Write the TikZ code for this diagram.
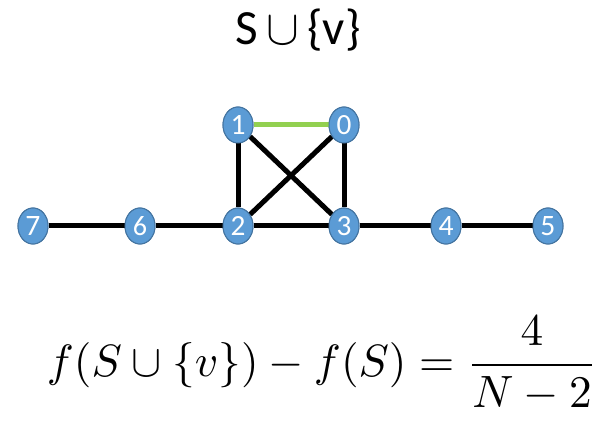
\RequirePackage{fix-cm}
\documentclass[tikz,border=0pt]{standalone}
\usepackage{amsmath,amssymb}
\usepackage{fontspec}
\setmainfont{Carlito}
\usepackage{tikz}
\usetikzlibrary{shapes.geometric,positioning}
\definecolor{vblue}{HTML}{5B9BD5}
\definecolor{vgreen}{HTML}{92D050}
\newcommand{\vlabel}[1]{\resizebox{!}{19pt}{#1}}

\begin{document}
\begin{tikzpicture}[
    x=1pt, y=-1pt,
    node distance=102pt, on grid,
    vertex/.style={ellipse, fill=vblue, draw=vblue!75!black, line width=1pt,
                   minimum width=30pt, minimum height=36pt, inner sep=0pt,
                   text=white},
    edge/.style={line width=5pt, black},
    hedge/.style={line width=5pt, vgreen}
]
\useasboundingbox (0,0) rectangle (606,422);
% Title
\node (title) at (298,30) {\resizebox{125pt}{!}{S\,$\cup$\,\{v\}}};

% Vertices
\node[vertex] (v7) at (33,226) {\vlabel{7}};
\node[vertex, right=107pt of v7] (v6) {\vlabel{6}};
\node[vertex, right=98pt of v6] (v2) {\vlabel{2}};
\node[vertex, right=106pt of v2] (v3) {\vlabel{3}};
\node[vertex, right=102pt of v3] (v4) {\vlabel{4}};
\node[vertex, right=102pt of v4] (v5) {\vlabel{5}};
\node[vertex, above=101pt of v2] (v1) {\vlabel{1}};
\node[vertex, above=101pt of v3] (v0) {\vlabel{0}};

% Edges
\draw[hedge] (v1) -- (v0);
\draw[edge] (v1) -- (v2);
\draw[edge] (v1) -- (v3);
\draw[edge] (v0) -- (v2);
\draw[edge] (v0) -- (v3);
\draw[edge] (v7) -- (v6);
\draw[edge] (v6) -- (v2);
\draw[edge] (v2) -- (v3);
\draw[edge] (v3) -- (v4);
\draw[edge] (v4) -- (v5);
% vertices again, over the edges
\foreach \v/\t in {v7/7,v6/6,v2/2,v3/3,v4/4,v5/5,v1/1,v0/0}
  \node[vertex] at (\v) {\vlabel{\t}};

% Formula
\node (gain) at (322,364) {\resizebox{550pt}{!}{$\displaystyle f(S\cup\{v\})-f(S)=\frac{4}{N-2}$}};
\end{tikzpicture}
\end{document}
